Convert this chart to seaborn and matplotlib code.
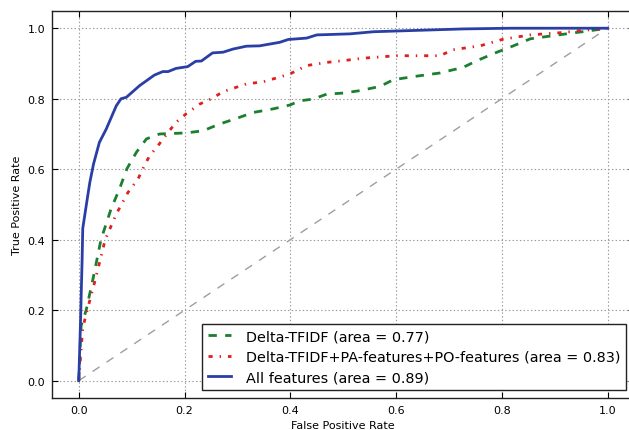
import matplotlib
matplotlib.use("Agg")
import matplotlib.pyplot as plt
import seaborn as sns
import pandas as pd

# ---- data ----
fpr_delta = [0, 0.0045, 0.014, 0.027, 0.042, 0.061, 0.077, 0.091, 0.109, 0.128, 0.153,
             0.203, 0.235, 0.266, 0.298, 0.330, 0.367, 0.399, 0.418, 0.443, 0.469, 0.5,
             0.532, 0.570, 0.595, 0.639, 0.683, 0.727, 0.753, 0.791, 0.822, 0.854,
             0.917, 0.967, 1.0]
tpr_delta = [0, 0.156, 0.200, 0.289, 0.400, 0.487, 0.544, 0.601, 0.648, 0.686, 0.700,
             0.703, 0.709, 0.728, 0.744, 0.761, 0.771, 0.782, 0.794, 0.799, 0.813, 0.816,
             0.823, 0.835, 0.854, 0.864, 0.873, 0.889, 0.908, 0.932, 0.950, 0.970,
             0.983, 0.993, 1.0]

fpr_papo = [0, 0.0076, 0.016, 0.030, 0.050, 0.071, 0.083, 0.093, 0.112, 0.124, 0.134,
            0.150, 0.164, 0.184, 0.203, 0.229, 0.251, 0.273, 0.317, 0.349, 0.399, 0.431,
            0.469, 0.5, 0.538, 0.601, 0.683, 0.708, 0.759, 0.803, 0.854, 0.917, 0.948, 1.0]
tpr_papo = [0, 0.150, 0.200, 0.279, 0.400, 0.473, 0.506, 0.534, 0.572, 0.610, 0.638,
            0.667, 0.695, 0.733, 0.757, 0.785, 0.800, 0.820, 0.842, 0.848, 0.870, 0.894,
            0.903, 0.908, 0.915, 0.922, 0.922, 0.939, 0.950, 0.969, 0.981, 0.988, 0.993, 1.0]

fpr_all = [0, 0.003, 0.0064, 0.0076, 0.016, 0.021, 0.028, 0.039, 0.052, 0.071, 0.080,
           0.090, 0.115, 0.143, 0.159, 0.169, 0.184, 0.206, 0.221, 0.232, 0.253, 0.273,
           0.292, 0.317, 0.342, 0.380, 0.396, 0.431, 0.450, 0.513, 0.557, 0.727, 0.816, 1.0]
tpr_all = [0, 0.147, 0.345, 0.432, 0.515, 0.563, 0.615, 0.676, 0.714, 0.780, 0.800,
           0.804, 0.837, 0.867, 0.877, 0.877, 0.886, 0.891, 0.906, 0.907, 0.930, 0.932,
           0.941, 0.949, 0.950, 0.960, 0.968, 0.972, 0.981, 0.984, 0.990, 0.998, 1.0, 1.0]

chance = [0, 1]

labels = ["Delta-TFIDF (area = 0.77)",
          "Delta-TFIDF+PA-features+PO-features (area = 0.83)",
          "All features (area = 0.89)"]
ticks = [0.0, 0.2, 0.4, 0.6, 0.8, 1.0]
tick_labels = ["0.0", "0.2", "0.4", "0.6", "0.8", "1.0"]

# ---- style ----
plt.rcParams['font.family'] = ['DejaVu Sans']
plt.rcParams['lines.scale_dashes'] = False

W, H = 629, 431
fig = plt.figure(figsize=(W / 100, H / 100), dpi=100)
# axes extend slightly past the right edge of the picture (cropped like the reference)
left_px, right_px, top_px, bottom_px = 52.3, 634.0, 12.3, 399.0
ax = fig.add_axes([left_px / W, 1 - bottom_px / H,
                   (right_px - left_px) / W, (bottom_px - top_px) / H])

sns.lineplot(x=chance, y=chance, ax=ax, color=(0.62, 0.62, 0.62), linewidth=1,
             linestyle=(0, (6, 6)), sort=False, estimator=None)
sns.lineplot(x=fpr_delta, y=tpr_delta, ax=ax, color="#1b7f2f", linewidth=2,
             linestyle=(0, (6, 6)), sort=False, estimator=None, label=labels[0])
sns.lineplot(x=fpr_papo, y=tpr_papo, ax=ax, color="#e01f1f", linewidth=2,
             linestyle=(0, (3, 5, 1, 5)), sort=False, estimator=None, label=labels[1])
sns.lineplot(x=fpr_all, y=tpr_all, ax=ax, color="#2a3fa6", linewidth=2,
             sort=False, estimator=None, label=labels[2])

ax.set_xlim(-0.05, 1.05)
ax.set_ylim(-0.049, 1.048)
ax.set_xticks(ticks)
ax.set_xticklabels(tick_labels)
ax.set_yticks(ticks)
ax.set_yticklabels(tick_labels)
ax.tick_params(direction="in", top=True, right=True, length=4, width=0.8,
               labelsize=8, pad=5)
ax.grid(True, linestyle=":", color="#999999", linewidth=0.8)
for s in ax.spines.values():
    s.set_linewidth(1.0)
    s.set_color("#222222")
ax.set_xlabel("False Positive Rate", fontsize=8, labelpad=4)
ax.set_ylabel("True Positive Rate", fontsize=8, labelpad=4)

leg = ax.legend(loc="lower right", fontsize=10.4, fancybox=False, framealpha=1,
                edgecolor="#222222", handlelength=1.6, handletextpad=1.0,
                borderaxespad=0.55, labelspacing=0.45)
leg.get_frame().set_linewidth(1.0)

fig.savefig("out.png", dpi=100)
